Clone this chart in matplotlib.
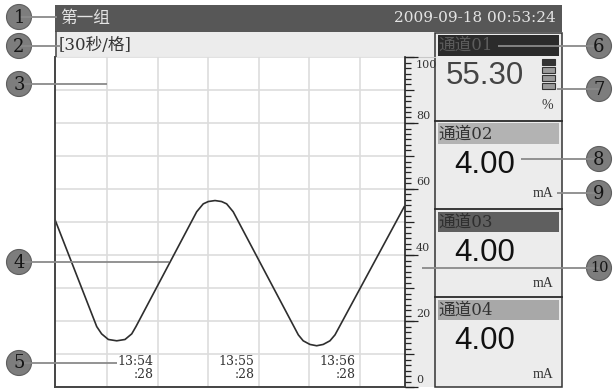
import matplotlib.pyplot as plt
from matplotlib.patches import Rectangle, Circle
from matplotlib.ticker import MultipleLocator
from matplotlib.transforms import offset_copy

# 趋势曲线 (秒, %)
t_sec = [-1, 23.8, 26.7, 30.7, 35.7, 40.6, 44.6, 47.1,
         83.2, 87.1, 90.1, 94.1, 98.0, 101.0, 104.9,
         143.6, 146.5, 150.5, 154.5, 158.4, 162.4, 165.4, 206.5]
valores = [50.7, 18.3, 16.1, 14.4, 14.0, 14.4, 16.1, 18.3,
           53.1, 55.5, 56.2, 56.5, 56.2, 55.5, 53.1,
           15.8, 14.0, 12.9, 12.5, 12.9, 14.0, 15.8, 54.6]

# 时间刻度
tiempos = [60, 120, 180]
etiquetas_t = ['13:54\n:28', '13:55\n:28', '13:56\n:28']
escala = [0, 20, 40, 60, 80, 100]

# 通道
canales = ['通道01', '通道02', '通道03', '通道04']
lecturas = ['55.30', '4.00', '4.00', '4.00']
unidades = ['%', 'mA', 'mA', 'mA']

titulo = '第一组'
fecha = '2009-09-18 00:53:24'
periodo = '[30秒/格]'

serif = ['DejaVu Serif', 'Noto Sans CJK SC']
W, H = 615, 389

fig = plt.figure(figsize=(W / 100, H / 100), dpi=100)

# fondo
bg = fig.add_axes([0, 0, 1, 1], zorder=0)
bg.set_xlim(0, W)
bg.set_ylim(H, 0)
bg.axis('off')

bg.add_patch(Rectangle((55, 4.5), 507, 27.5, facecolor='#575757', edgecolor='none'))
bg.text(60, 18, titulo, color='#e4e4e4', fontsize=12, va='center', family=serif)
bg.text(556, 18, fecha, color='#e4e4e4', fontsize=11, ha='right', va='center', family=serif)

bg.add_patch(Rectangle((55, 32), 380, 25, facecolor='#ececec', edgecolor='none'))
bg.plot([55, 435], [56.5, 56.5], color='#c8c8c8', lw=0.8)
bg.plot([55.5, 55.5], [32, 57], color='#444444', lw=1.1)
bg.text(59, 45, periodo, color='#333333', fontsize=12, va='center', family=serif)

# franja de escala
bg.add_patch(Rectangle((405, 57), 30, 330, facecolor='#ececec', edgecolor='none'))

# panel de canales
bg.add_patch(Rectangle((435, 32.5), 126.5, 354.5, facecolor='#ececec',
                       edgecolor='#333333', lw=1.1))
cab_fondo = ['#2b2b2b', '#b3b3b3', '#5f5f5f', '#a8a8a8']
cab_texto = ['#5c5c5c', '#333333', '#2e2e2e', '#333333']
unidad_dy = [72.5, 73, 74, 77]
for i in range(4):
    y0 = 32.5 + i * 88.3
    if i > 0:
        bg.plot([435, 561.5], [y0, y0], color='#2a2a2a', lw=1.3)
    bg.add_patch(Rectangle((437.5, y0 + 2.5), 121.5, 20.5, facecolor=cab_fondo[i],
                           edgecolor='none'))
    bg.text(438, y0 + 13, canales[i], color=cab_texto[i], fontsize=12,
            va='center', family=serif)
    bg.text(485, y0 + (43 if i == 0 else 44), lecturas[i],
            color='#444444' if i == 0 else '#111111',
            fontsize=22.5, ha='center', va='center', family='Liberation Sans')
    bg.text(553, y0 + unidad_dy[i], unidades[i], color='#333333', fontsize=10,
            ha='right', va='center', family='Liberation Serif')

# indicador de barras
for j in range(4):
    bg.add_patch(Rectangle((542, 59 + j * 8), 13, 6,
                           facecolor='#333333' if j == 0 else '#9a9a9a',
                           edgecolor='#333333', lw=0.8))

# grafico
ax = fig.add_axes([55 / W, (H - 387) / H, 350 / W, 330 / H], zorder=1)
ax2 = ax.twinx()
ax2.set_ylim(0, 100)
ax2.set_yticks(escala)
ax2.tick_params(axis='y', length=9.5, width=0.9, color='#222222', labelright=False)
for s in ax2.spines.values():
    s.set_visible(False)

ax.plot(t_sec, valores, color='#2e2e2e', lw=1.2, solid_joinstyle='round')
ax.set_xlim(-1, 207)
ax.set_ylim(0, 100)
ax.set_xticks([30, 60, 90, 120, 150, 180])
ax.set_xticklabels([])
ax.tick_params(axis='x', length=0)
ax.yaxis.set_major_locator(MultipleLocator(10))
ax.yaxis.set_minor_locator(MultipleLocator(10 / 6))
ax.yaxis.set_ticks_position('right')
ax.tick_params(axis='y', which='both', left=False, right=True,
               labelleft=False, labelright=False, color='#222222', width=0.9)
ax.tick_params(axis='y', which='major', length=6.5)
ax.tick_params(axis='y', which='minor', length=4)
ax.grid(True, color='#dddddd', lw=1.2)
ax.spines['top'].set_visible(False)
for s in ['left', 'bottom']:
    ax.spines[s].set_color('#444444')
    ax.spines[s].set_linewidth(1.4)
ax.spines['right'].set_color('#222222')
ax.spines['right'].set_linewidth(1.2)

ytr = ax.get_yaxis_transform()
for v in escala:
    dy = -8 if v == 100 else 7
    ax.text(1, v, str(v), transform=offset_copy(ytr, fig=fig, x=11, y=dy, units='dots'),
            fontsize=8, color='#333333', va='center', ha='left', family=serif)

xtr = ax.get_xaxis_transform()
for t, lab in zip(tiempos, etiquetas_t):
    ax.text(t, 0.059, lab, transform=offset_copy(xtr, fig=fig, x=-4, y=0, units='dots'),
            fontsize=9, color='#333333', ha='right', va='center', ma='right',
            linespacing=1.0, family=serif)

# llamadas
fg = fig.add_axes([0, 0, 1, 1], zorder=3)
fg.set_xlim(0, W)
fg.set_ylim(H, 0)
fg.axis('off')

llamadas = [('1', 19, 17, 57, 17), ('2', 19, 46, 61, 46), ('3', 19, 84, 107, 84),
            ('4', 19, 262, 169, 262), ('5', 19, 363, 117, 363),
            ('6', 599, 46, 498, 46), ('7', 599, 89, 557, 89), ('8', 599, 159, 521, 159),
            ('9', 599, 193, 557, 193), ('10', 599, 268, 422, 268)]
for num, cx, cy, lx, ly in llamadas:
    fg.plot([cx, lx], [cy, ly], color='#8a8a8a', lw=1.3, solid_capstyle='butt')
    fg.add_patch(Circle((cx, cy), 12.5, facecolor='#7d7d7d', edgecolor='#5e5e5e', lw=0.8))
    fg.text(cx, cy + 0.5, num, fontsize=13 if len(num) == 1 else 10.5, color='#151515',
            ha='center', va='center', family='DejaVu Serif')

fig.savefig('out.png', dpi=100)
